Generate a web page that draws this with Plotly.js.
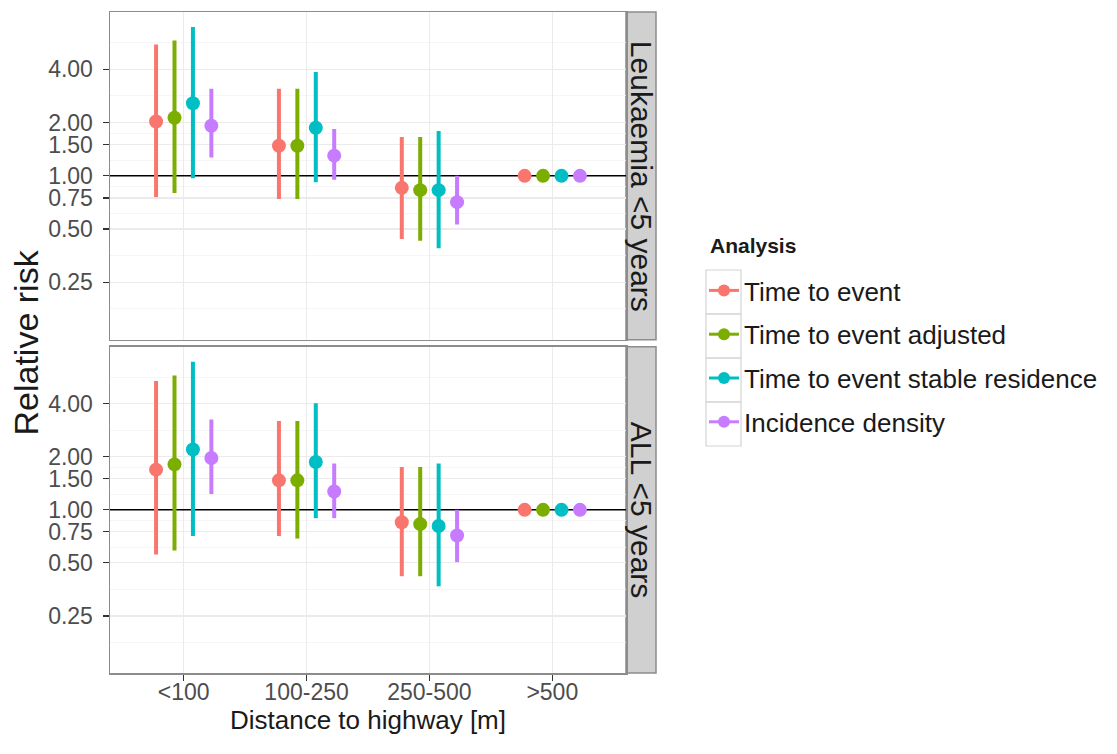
<!DOCTYPE html>
<html>
<head>
<meta charset="utf-8">
<script src="https://cdn.plot.ly/plotly-3.0.1.min.js"></script>
<style>html,body{margin:0;padding:0;background:#fff;}#chart{width:1117px;height:754px;}</style>
</head>
<body>
<div id="chart"></div>
<script>
// ---- data ----
const categories = ['<100', '100-250', '250-500', '>500'];
const seriesNames = ['Time to event', 'Time to event adjusted', 'Time to event stable residence', 'Incidence density'];
const panelNames = ['Leukaemia <5 years', 'ALL <5 years'];
const yTickVals = [0.25, 0.5, 0.75, 1, 1.5, 2, 4];
const yTickText = ['0.25', '0.50', '0.75', '1.00', '1.50', '2.00', '4.00'];

// Leukaemia <5 years
const leukTteRR  = [2.03, 1.48, 0.855, 1.0];
const leukTteLo  = [0.76, 0.74, 0.44, 1.0];
const leukTteHi  = [5.52, 3.11, 1.66, 1.0];
const leukAdjRR  = [2.13, 1.48, 0.83, 1.0];
const leukAdjLo  = [0.80, 0.74, 0.43, 1.0];
const leukAdjHi  = [5.82, 3.11, 1.66, 1.0];
const leukStbRR  = [2.57, 1.87, 0.83, 1.0];
const leukStbLo  = [0.97, 0.92, 0.39, 1.0];
const leukStbHi  = [6.93, 3.86, 1.79, 1.0];
const leukIncRR  = [1.92, 1.30, 0.71, 1.0];
const leukIncLo  = [1.27, 0.95, 0.53, 1.0];
const leukIncHi  = [3.11, 1.84, 1.00, 1.0];

// ALL <5 years
const allTteRR  = [1.69, 1.47, 0.85, 1.0];
const allTteLo  = [0.557, 0.71, 0.42, 1.0];
const allTteHi  = [5.38, 3.19, 1.75, 1.0];
const allAdjRR  = [1.81, 1.47, 0.83, 1.0];
const allAdjLo  = [0.588, 0.687, 0.42, 1.0];
const allAdjHi  = [5.79, 3.19, 1.75, 1.0];
const allStbRR  = [2.20, 1.87, 0.81, 1.0];
const allStbLo  = [0.71, 0.897, 0.368, 1.0];
const allStbHi  = [6.93, 4.02, 1.83, 1.0];
const allIncRR  = [1.97, 1.27, 0.715, 1.0];
const allIncLo  = [1.23, 0.897, 0.505, 1.0];
const allIncHi  = [3.26, 1.83, 1.00, 1.0];

// ---- styling ----
const colors = ['#F8766D', '#7CAE00', '#00BFC4', '#C77CFF'];
const dodge = [-0.225, -0.075, 0.075, 0.225];
const FONT = 'Liberation Sans, Arial, sans-serif';

const panels = [
  {yaxis: 'y2', xaxis: 'x2', data: [[leukTteRR, leukTteLo, leukTteHi], [leukAdjRR, leukAdjLo, leukAdjHi], [leukStbRR, leukStbLo, leukStbHi], [leukIncRR, leukIncLo, leukIncHi]]},
  {yaxis: 'y', xaxis: 'x', data: [[allTteRR, allTteLo, allTteHi], [allAdjRR, allAdjLo, allAdjHi], [allStbRR, allStbLo, allStbHi], [allIncRR, allIncLo, allIncHi]]}
];

const traces = [];
panels.forEach(p => {
  // reference line at RR = 1
  traces.push({x: [0.4, 4.6], y: [1, 1], xaxis: p.xaxis, yaxis: p.yaxis, mode: 'lines',
    line: {color: '#000', width: 1.5}, showlegend: false, hoverinfo: 'skip'});
  p.data.forEach((d, s) => {
    const [rr, lo, hi] = d;
    traces.push({
      x: categories.map((c, i) => i + 1 + dodge[s]),
      y: rr,
      xaxis: p.xaxis, yaxis: p.yaxis,
      mode: 'markers',
      marker: {color: colors[s], size: 14},
      error_y: {type: 'data', symmetric: false,
        array: hi.map((h, i) => h - rr[i]), arrayminus: rr.map((r, i) => r - lo[i]),
        color: colors[s], thickness: 4, width: 0},
      showlegend: false, name: seriesNames[s]
    });
  });
});
// legend entries
seriesNames.forEach((n, s) => {
  traces.push({x: [null], y: [null], xaxis: 'x', yaxis: 'y', mode: 'lines+markers', name: n,
    legendgroup: 'g' + s, line: {color: colors[s], width: 3}, marker: {color: colors[s], size: 12}});
});

const topDom = [0.5043, 1];
const botDom = [0, 0.4937];
const stripX1 = (656 - 110) / 516;
const px = v => (v - 110) / 516;         // pixel x -> paper
const py = v => (673 - v) / 661;         // pixel y -> paper

const yAxisBase = {
  type: 'log', range: [-0.926, 0.926], tickmode: 'array', tickvals: yTickVals, ticktext: yTickText,
  ticks: 'outside', ticklen: 6, tickwidth: 1.2, tickcolor: '#333', ticklabelstandoff: 5,
  showgrid: true, gridcolor: '#ebebeb', gridwidth: 1.2,
  minor: {tickvals: [0.177, 0.354, 0.612, 0.866, 1.225, 1.732, 2.828, 5.657], showgrid: true, gridcolor: '#f3f3f3', gridwidth: 0.8, ticks: ''},
  showline: true, mirror: true, linecolor: '#8c8c8c', linewidth: 1.5,
  tickfont: {family: FONT, size: 23, color: '#4d4d4d'}, zeroline: false, fixedrange: true
};
const xAxisBase = {
  range: [0.4, 4.6], tickmode: 'array', tickvals: [1, 2, 3, 4], ticktext: categories,
  showgrid: true, gridcolor: '#ebebeb', gridwidth: 1.2, zeroline: false,
  showline: true, mirror: true, linecolor: '#8c8c8c', linewidth: 1.5, fixedrange: true
};

const rowH = 44;
const keyTop = 270;
const keyBoxes = [0, 1, 2, 3].map(i => ({type: 'rect', xref: 'paper', yref: 'paper',
  x0: px(706), x1: px(741), y0: py(keyTop + rowH * i), y1: py(keyTop + rowH * (i + 1)),
  fillcolor: 'rgba(0,0,0,0)', line: {color: '#d4d4d4', width: 1.2}}));

const layout = {
  width: 1117, height: 754,
  margin: {l: 110, r: 491, t: 12, b: 81},
  paper_bgcolor: '#fff', plot_bgcolor: '#fff',
  font: {family: FONT, color: '#1a1a1a'},
  showlegend: true,
  xaxis: Object.assign({}, xAxisBase, {anchor: 'y', domain: [0, 1],
    ticks: 'outside', ticklen: 6, tickwidth: 1.2, tickcolor: '#333', ticklabelstandoff: -8,
    tickfont: {family: FONT, size: 23, color: '#4d4d4d'},
    title: {text: 'Distance to highway [m]', font: {family: FONT, size: 26, color: '#1a1a1a'}, standoff: 4}}),
  xaxis2: Object.assign({}, xAxisBase, {anchor: 'y2', domain: [0, 1], matches: 'x', showticklabels: false, ticks: ''}),
  yaxis: Object.assign({}, yAxisBase, {domain: botDom, anchor: 'x'}),
  yaxis2: Object.assign({}, yAxisBase, {domain: topDom, anchor: 'x2'}),
  legend: {x: px(704), y: py(267), xanchor: 'left', yanchor: 'top',
    font: {family: FONT, size: 26, color: '#1a1a1a'}, tracegroupgap: 7, traceorder: 'grouped',
    bgcolor: 'rgba(0,0,0,0)', itemwidth: 30},
  shapes: [
    {type: 'rect', xref: 'paper', yref: 'paper', x0: 1, x1: stripX1, y0: topDom[0], y1: topDom[1],
      fillcolor: '#d0d0d0', line: {color: '#8c8c8c', width: 1.5}, layer: 'below'},
    {type: 'rect', xref: 'paper', yref: 'paper', x0: 1, x1: stripX1, y0: botDom[0], y1: botDom[1],
      fillcolor: '#d0d0d0', line: {color: '#8c8c8c', width: 1.5}, layer: 'below'}
  ].concat(keyBoxes),
  annotations: [
    {text: panelNames[0], xref: 'paper', yref: 'paper', x: (1 + stripX1) / 2, y: (topDom[0] + topDom[1]) / 2,
      textangle: 90, showarrow: false, font: {family: FONT, size: 30, color: '#1a1a1a'}, xanchor: 'center', yanchor: 'middle'},
    {text: panelNames[1], xref: 'paper', yref: 'paper', x: (1 + stripX1) / 2, y: (botDom[0] + botDom[1]) / 2,
      textangle: 90, showarrow: false, font: {family: FONT, size: 30, color: '#1a1a1a'}, xanchor: 'center', yanchor: 'middle'},
    {text: 'Relative risk', xref: 'paper', yref: 'paper', x: px(25), y: 0.5,
      textangle: -90, showarrow: false, font: {family: FONT, size: 34, color: '#1a1a1a'}, xanchor: 'center', yanchor: 'middle'},
    {text: '<b>Analysis</b>', xref: 'paper', yref: 'paper', x: px(708), y: py(245),
      showarrow: false, font: {family: FONT, size: 21, color: '#1a1a1a'}, xanchor: 'left', yanchor: 'middle'}
  ]
};

Plotly.newPlot('chart', traces, layout, {staticPlot: true, displayModeBar: false});
</script>
</body>
</html>
